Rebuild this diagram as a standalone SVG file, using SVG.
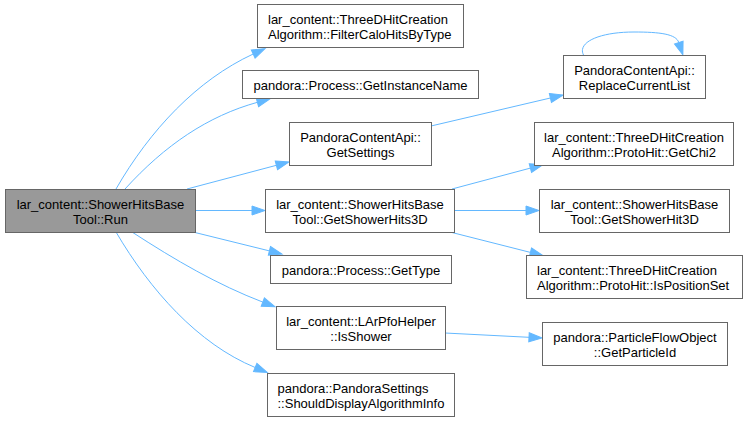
<svg xmlns="http://www.w3.org/2000/svg" width="748" height="421" viewBox="0 0 748 421">
<defs>
<marker id="arr" markerUnits="userSpaceOnUse" markerWidth="13" markerHeight="9" refX="0" refY="4.5" orient="auto" viewBox="0 0 13 9" overflow="visible">
<path d="M0,0 L13,4.5 L0,9 z" fill="#63b8ff" stroke="#63b8ff" stroke-width="1"/>
</marker>
<style>
.n rect{fill:#ffffff;stroke:#666666;stroke-width:1}
.n text{font-family:"Liberation Sans",Arial,sans-serif;font-size:13px;fill:#000000}
.c{text-anchor:middle}
#main rect{fill:#999999}
.e path{fill:none;stroke:#63b8ff;stroke-width:1;marker-end:url(#arr)}
</style>
</defs>
<rect x="0" y="0" width="748" height="421" fill="#ffffff"/>
<g class="e" id="edges">
<path d="M116,189 C150,130 197,80 253.2,54"/>
<path d="M125,189 C165,145 208,116 257.4,102.3"/>
<path d="M187,189 L276.4,165.3"/>
<path d="M195,210.5 L252,210.5"/>
<path d="M193,232 L269.4,250.9"/>
<path d="M132,232 C175,260 218,285 262.8,302.1"/>
<path d="M116,232 C150,290 198,344 255.2,367.5"/>
<path d="M431,126 L550.4,98"/>
<path d="M583.5,55 C577,42 600,32 634,32 C660,32 676,34 678.8,42.5"/>
<path d="M452,189 L530.4,168.1"/>
<path d="M454,210.5 L526,210.5"/>
<path d="M450,232 L530.4,252.4"/>
<path d="M445,333 L529,337.3"/>
</g>
<g class="n" id="main">
<rect x="5.5" y="189.5" width="190" height="43"/>
<text class="c" x="100.5" y="209">lar_content::ShowerHitsBase</text>
<text class="c" x="100.5" y="224">Tool::Run</text>
</g>
<g class="n" id="filterCaloHits">
<rect x="257.5" y="4.5" width="206" height="43"/>
<text x="268" y="24">lar_content::ThreeDHitCreation</text>
<text x="268" y="39">Algorithm::FilterCaloHitsByType</text>
</g>
<g class="n" id="getInstanceName">
<rect x="242.5" y="70.5" width="236" height="28"/>
<text class="c" x="360.5" y="89.5">pandora::Process::GetInstanceName</text>
</g>
<g class="n" id="getSettings">
<rect x="289.5" y="122.5" width="142" height="43"/>
<text class="c" x="360.5" y="142">PandoraContentApi::</text>
<text class="c" x="360.5" y="157">GetSettings</text>
</g>
<g class="n" id="getShowerHits3D">
<rect x="265.5" y="189.5" width="189" height="43"/>
<text class="c" x="360" y="209">lar_content::ShowerHitsBase</text>
<text class="c" x="360" y="224">Tool::GetShowerHits3D</text>
</g>
<g class="n" id="getType">
<rect x="270.5" y="255.5" width="181" height="28"/>
<text class="c" x="361" y="274.5">pandora::Process::GetType</text>
</g>
<g class="n" id="isShower">
<rect x="276.5" y="306.5" width="169" height="43"/>
<text class="c" x="361" y="326">lar_content::LArPfoHelper</text>
<text class="c" x="361" y="341">::IsShower</text>
</g>
<g class="n" id="shouldDisplay">
<rect x="267.5" y="373.5" width="187" height="43"/>
<text x="277.5" y="393">pandora::PandoraSettings</text>
<text x="277.5" y="408">::ShouldDisplayAlgorithmInfo</text>
</g>
<g class="n" id="replaceCurrentList">
<rect x="563.5" y="55.5" width="142" height="43"/>
<text class="c" x="634.5" y="75">PandoraContentApi::</text>
<text class="c" x="634.5" y="90">ReplaceCurrentList</text>
</g>
<g class="n" id="getChi2">
<rect x="534.5" y="122.5" width="199" height="43"/>
<text class="c" x="634" y="142">lar_content::ThreeDHitCreation</text>
<text class="c" x="634" y="157">Algorithm::ProtoHit::GetChi2</text>
</g>
<g class="n" id="getShowerHit3D">
<rect x="539.5" y="189.5" width="190" height="43"/>
<text class="c" x="634.5" y="209">lar_content::ShowerHitsBase</text>
<text class="c" x="634.5" y="224">Tool::GetShowerHit3D</text>
</g>
<g class="n" id="isPositionSet">
<rect x="526.5" y="255.5" width="216" height="43"/>
<text x="537" y="275">lar_content::ThreeDHitCreation</text>
<text x="537" y="290">Algorithm::ProtoHit::IsPositionSet</text>
</g>
<g class="n" id="getParticleId">
<rect x="542.5" y="322.5" width="185" height="43"/>
<text class="c" x="635" y="342">pandora::ParticleFlowObject</text>
<text class="c" x="635" y="357">::GetParticleId</text>
</g>
</svg>
